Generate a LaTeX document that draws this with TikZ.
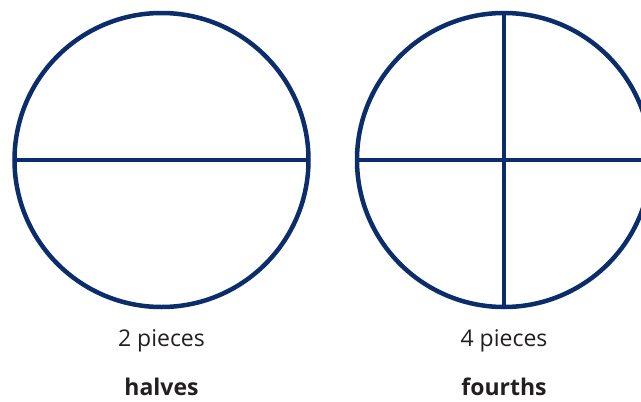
\documentclass[tikz,border=0pt]{standalone}
\usepackage{fontspec}
\setmainfont{Open Sans}
\usepackage{tikz}
\usetikzlibrary{positioning}
\definecolor{Navy}{HTML}{0C2D6B}
\definecolor{Ink}{HTML}{231F20}
\tikzset{
  pie/.style={circle,draw=Navy,line width=4.5pt,minimum size=294pt,inner sep=0pt,outer sep=0pt},
  cut/.style={draw=Navy,line width=4.5pt},
  count/.style={text=Ink,font=\fontsize{23}{26}\selectfont,anchor=base},
  word/.style={text=Ink,font=\fontsize{23}{26}\selectfont\bfseries,anchor=base}
}

\begin{document}
\begin{tikzpicture}[x=1pt,y=-1pt]
\useasboundingbox (0,0) rectangle (641,402);
\node[pie] (half) at (161.5,160) {};
\node[pie] (fourth) at (504,160) {};
\draw[cut] (half.west) -- (half.east);
\draw[cut] (fourth.west) -- (fourth.east);
\draw[cut] (fourth.north) -- (fourth.south);
\node[count] (halfcount) at (161.5,346) {2 pieces};
\node[count] (fourthcount) at (504,346) {4 pieces};
\node[word] (halfname) at (161.5,395) {halves};
\node[word] (fourthname) at (504,395) {fourths};
\end{tikzpicture}
\end{document}
